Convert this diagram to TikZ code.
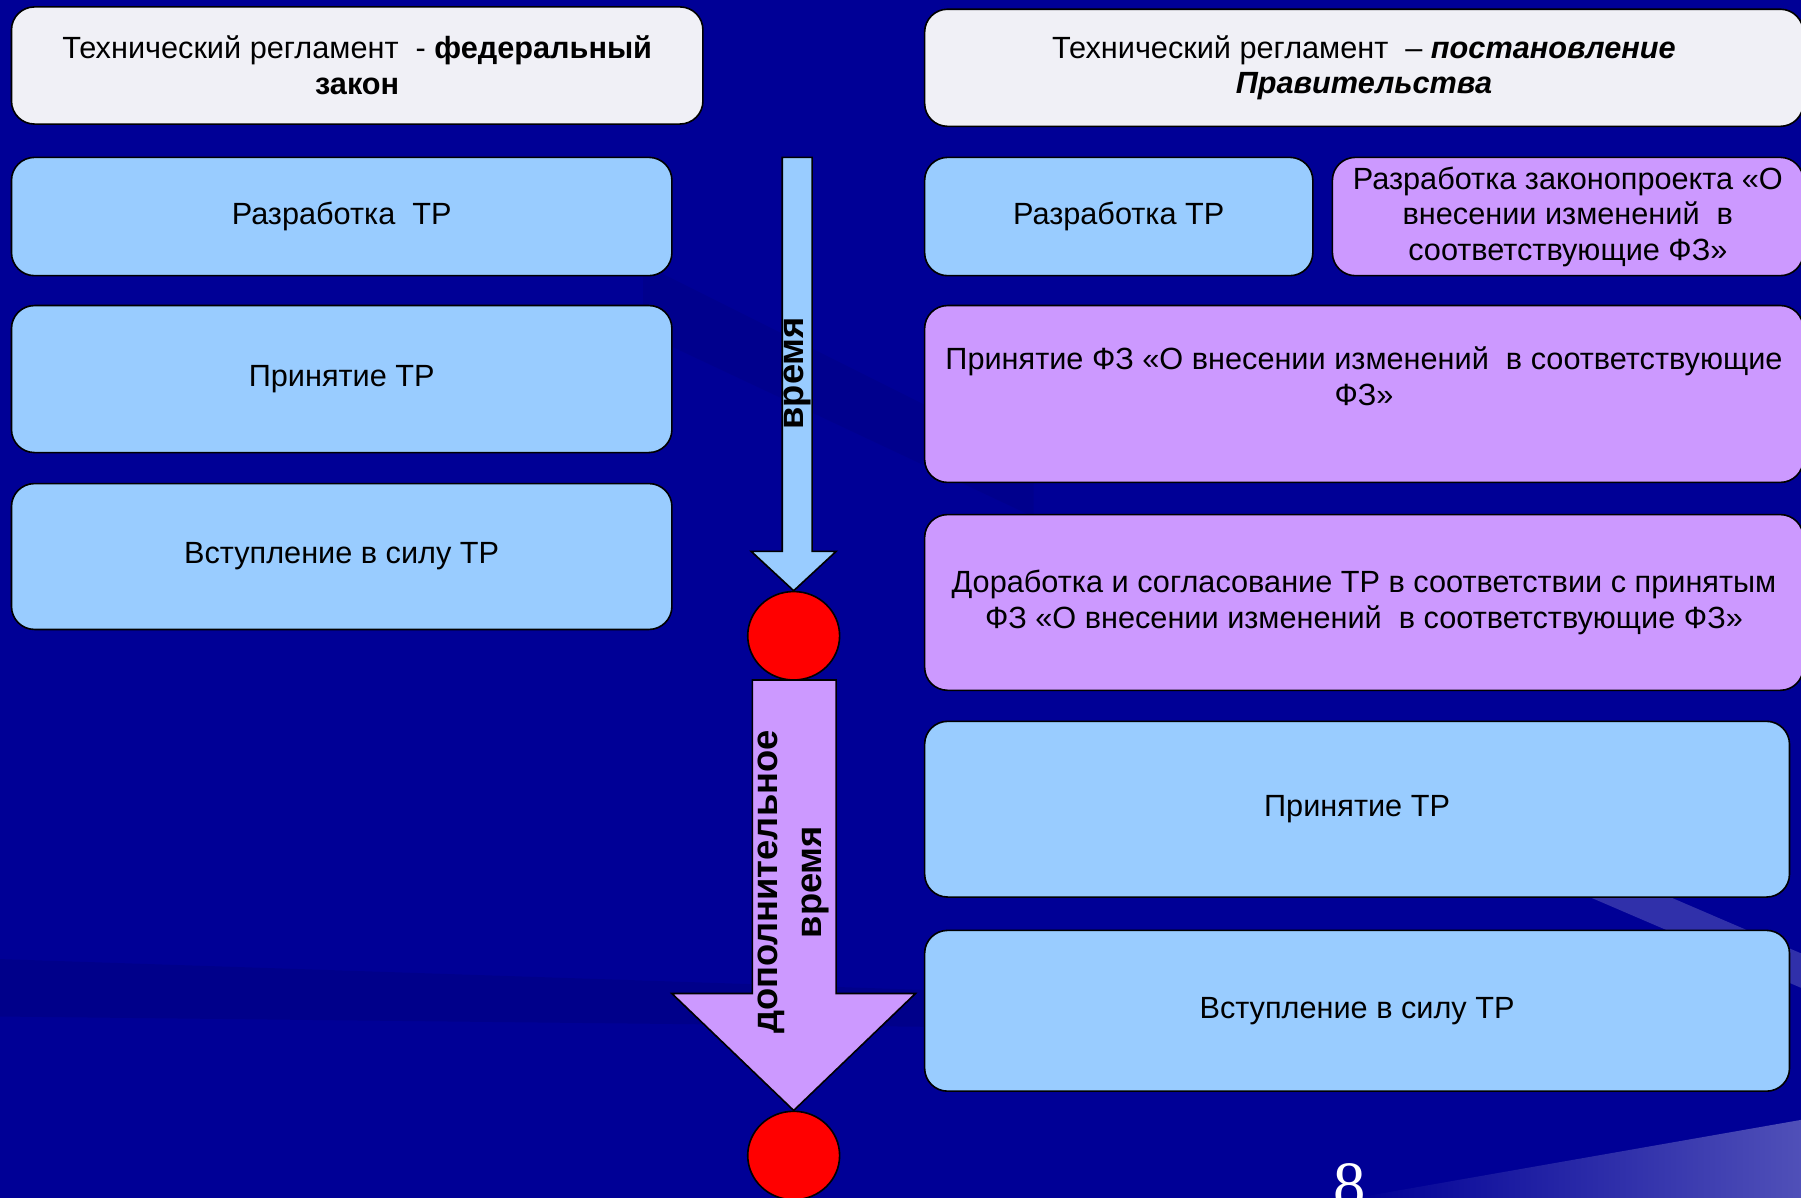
\documentclass[tikz,border=0pt]{standalone}
\usepackage{fontspec}
\setmainfont{Liberation Sans}
\newfontfamily\pagefont{Liberation Serif}
\usetikzlibrary{shapes.geometric}
\definecolor{slidebg}{HTML}{000096}
\definecolor{bgdark}{HTML}{00006A}
\definecolor{bglight}{HTML}{5050B8}
\definecolor{boxblue}{HTML}{99CCFF}
\definecolor{boxviolet}{HTML}{CC99FF}
\definecolor{boxwhite}{HTML}{F0F0F6}

\begin{document}
\begin{tikzpicture}[x=0.1mm, y=-0.1mm,
  stage/.style={draw=black, line width=0.4pt, rounded corners=2mm, align=center, inner sep=0.5mm,
    fill=boxblue, font=\fontsize{7.6}{8.8}\selectfont},
  law/.style={stage, fill=boxviolet},
  head/.style={stage, fill=boxwhite},
  dot/.style={ellipse, draw=black, line width=0.4pt, fill=red, minimum width=8mm, minimum height=7.7mm, inner sep=0},
  timearrow/.style={draw=black, line width=0.4pt},
  timelabel/.style={rotate=90, align=center, font=\fontsize{9}{11}\selectfont\bfseries}]
\useasboundingbox (0,0) rectangle (1568,1043);
\fill[slidebg] (0,0) rectangle (1568,1043);
\fill[bgdark, opacity=0.2] (560,230) -- (900,400) -- (900,450) -- (560,290) -- cycle;
\fill[bgdark, opacity=0.25] (0,835) -- (900,865) -- (900,895) -- (0,885) -- cycle;
\fill[bglight, opacity=0.6] (1370,775) -- (1440,775) -- (1568,830) -- (1568,860) -- cycle;
\shade[left color=slidebg, right color=bglight] (1180,1043) -- (1568,975) -- (1568,1043) -- cycle;

\node[head, minimum width=60.2mm, minimum height=10.2mm] (lawtitle) at (311,57)
  {Технический регламент~ - \textbf{федеральный}\\\textbf{закон}};
\node[stage, minimum width=57.5mm, minimum height=10.3mm] (ldraft) at (297.5,188.5) {Разработка~ ТР};
\node[stage, minimum width=57.5mm, minimum height=12.8mm] (ladopt) at (297.5,330) {Принятие ТР};
\node[stage, minimum width=57.5mm, minimum height=12.7mm] (lforce) at (297.5,484.5) {Вступление в силу ТР};

\node[head, minimum width=76.5mm, minimum height=10.2mm] (govtitle) at (1187.5,59)
  {Технический регламент~ – \textbf{\textit{постановление}}\\\textbf{\textit{Правительства}}};
\node[stage, minimum width=33.8mm, minimum height=10.3mm] (rdraft) at (974,188.5) {Разработка ТР};
\node[law, minimum width=41mm, minimum height=10.3mm] (billdraft) at (1365,188.5)
  {Разработка законопроекта «О\\внесении изменений~ в\\соответствующие ФЗ»};
\node[law, minimum width=76.5mm, minimum height=15.4mm] (billadopt) at (1187.5,343)
  {Принятие ФЗ «О внесении изменений~ в соответствующие\\ФЗ»\\\mbox{}};
\node[law, minimum width=76.5mm, minimum height=15.3mm] (rework) at (1187.5,524.5)
  {Доработка и согласование ТР в соответствии с принятым\\ФЗ «О внесении изменений~ в соответствующие ФЗ»};
\node[stage, minimum width=75.3mm, minimum height=15.3mm] (radopt) at (1181.5,704.5) {Принятие ТР};
\node[stage, minimum width=75.3mm, minimum height=14mm] (rforce) at (1181.5,880) {Вступление в силу ТР};

\node[dot] (mark1) at (691,553.5) {};
\node[dot] (mark2) at (691,1006) {};
\draw[timearrow, fill=boxblue] (681,137) -- (707,137) -- (707,480) -- (728,480) -- (mark1.north)
  -- (654,480) -- (681,480) -- cycle;
\draw[timearrow, fill=boxviolet] (655,592) -- (728,592) -- (728,865) -- (797,865) -- (mark2.north)
  -- (585,865) -- (655,865) -- cycle;
\node[timelabel] (timetxt) at (694,325) {время};
\node[timelabel] (extratxt) at (691,768) {дополнительное\\время};

\node[text=white, font=\pagefont\fontsize{16}{16}\selectfont, anchor=north, inner sep=0] (pagenum) at (1175,1012) {8};
\end{tikzpicture}
\end{document}
